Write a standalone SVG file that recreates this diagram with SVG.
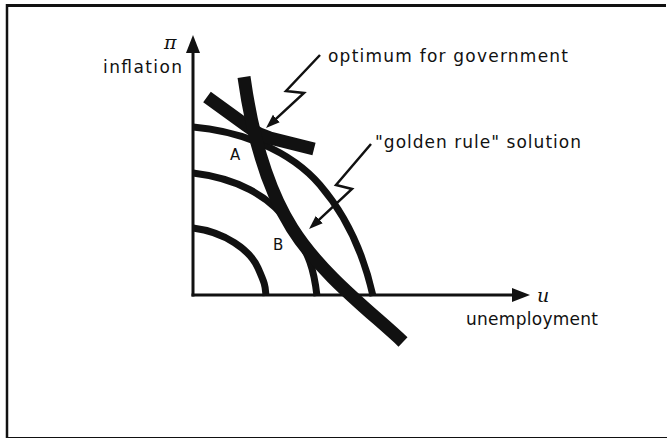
<svg xmlns="http://www.w3.org/2000/svg" width="667" height="439" viewBox="0 0 667 439">
<style>
.frame{fill:none;stroke:#111;}
.axis{fill:none;stroke:#111;stroke-width:3;}
.ic{fill:none;stroke:#111;stroke-width:7;stroke-linecap:butt;}
.thick{fill:none;stroke:#111;stroke-width:13;stroke-linecap:butt;stroke-linejoin:round;}
.bolt{fill:none;stroke:#111;stroke-width:2.5;stroke-linejoin:miter;}
.lbl{font-family:"DejaVu Sans","Liberation Sans",sans-serif;font-size:17px;fill:#111;}
.pt{font-family:"DejaVu Sans","Liberation Sans",sans-serif;font-size:15px;fill:#111;}
.sym{font-family:"DejaVu Serif","Liberation Serif",serif;font-style:italic;font-size:19px;fill:#111;}
</style>
<defs>
<marker id="axhead" markerUnits="userSpaceOnUse" markerWidth="20" markerHeight="16" viewBox="0 -8 20 16" refX="10" refY="0" orient="auto">
<path d="M0,-7 L18,0 L0,7 Z" fill="#111"/>
</marker>
<marker id="bhead" markerUnits="userSpaceOnUse" markerWidth="16" markerHeight="12" viewBox="0 -6 16 12" refX="6" refY="0" orient="auto">
<path d="M0,-5 L14,0 L0,5 Z" fill="#111"/>
</marker>
</defs>
<rect width="667" height="439" fill="#fff"/>
<g id="frame">
<line class="frame" x1="6" y1="5.5" x2="666" y2="5.5" stroke-width="3"/>
<line class="frame" x1="7" y1="4" x2="7" y2="438" stroke-width="2.5"/>
<line class="frame" x1="6" y1="437.5" x2="667" y2="437.5" stroke-width="1.2" stroke="#555"/>
</g>
<g id="connectors">
<line id="y-axis" class="axis" x1="193" y1="296.5" x2="193" y2="43" marker-end="url(#axhead)"/>
<line id="x-axis" class="axis" x1="191.5" y1="295" x2="522" y2="295" marker-end="url(#axhead)"/>
<path id="ic1" class="ic" d="M193,127 C240,131 290,150 320,185 S365,260 373,296"/>
<path id="ic2" class="ic" d="M193,173 C235,178 270,195 290,225 S314,270 317,296"/>
<path id="ic3" class="ic" d="M193,228 C225,232 250,250 258,268 S265,286 266,296"/>
<path id="gov" class="thick" d="M207,97 L247,126 Q257,134 270,138 L314,149"/>
<path id="constraint" class="thick" d="M244,77 C250,120 262,180 292,228 S375,315 403,342"/>
<polyline id="bolt1" class="bolt" points="320,55 286,91 304,93 271.9,122.6" marker-end="url(#bhead)"/>
<polyline id="bolt2" class="bolt" points="371,144 336,185 352,189 314.9,223.6" marker-end="url(#bhead)"/>
</g>
<g id="labels">
<text class="sym" x="164" y="49">π</text>
<text class="lbl" x="103" y="73" textLength="79" lengthAdjust="spacing">inflation</text>
<text class="sym" x="537" y="302">u</text>
<text class="lbl" x="466" y="325" textLength="132" lengthAdjust="spacing">unemployment</text>
<text class="lbl" x="328" y="62" textLength="240" lengthAdjust="spacing">optimum for government</text>
<text class="lbl" x="375" y="148" textLength="206" lengthAdjust="spacing">"golden rule" solution</text>
<text class="pt" x="230" y="160">A</text>
<text class="pt" x="273" y="250">B</text>
</g>
</svg>
